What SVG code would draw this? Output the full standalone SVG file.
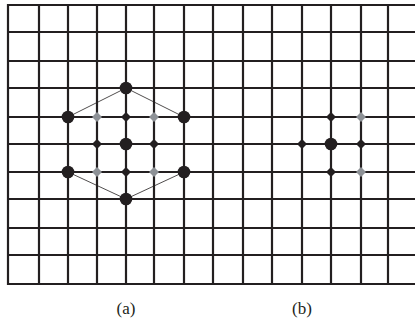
<svg xmlns="http://www.w3.org/2000/svg" width="415" height="323" viewBox="0 0 415 323">
<style>
.g{stroke:#231f20;stroke-width:2.2;fill:none}
.t{stroke:#231f20;stroke-width:0.8;fill:none}
.c{fill:#231f20}
.dk{fill:#231f20}
.gy{fill:#8d9196}
.lbl{font-family:"Liberation Serif",serif;font-size:17px;fill:#231f20;text-anchor:middle}
</style>
<defs>
<path id="dm" d="M0,-5 L5,0 L0,5 L-5,0 Z"/>
</defs>
<g id="grid" class="g">
<path d="M7,5H415M7,32H415M7,61H415M7,88H415M7,117H415M7,144H415M7,172H415M7,199H415M7,228H415M7,255H415M7,284H415"/>
<path d="M8,4V285M39,4V285M68,4V285M97,4V285M126,4V285M154,4V285M184,4V285M213,4V285M243,4V285M272,4V285M302,4V285M331,4V285M361,4V285M388,4V285"/>
</g>
<g id="connectors" class="t">
<path d="M126,88L68,117M126,88L184,117M68,172L126,199M184,172L126,199"/>
</g>
<g id="nodes-a">
<circle class="c" cx="126" cy="88" r="6.3"/>
<circle class="c" cx="68" cy="117" r="6.3"/>
<circle class="c" cx="184" cy="117" r="6.3"/>
<circle class="c" cx="126" cy="144" r="6.3"/>
<circle class="c" cx="68" cy="172" r="6.3"/>
<circle class="c" cx="184" cy="172" r="6.3"/>
<circle class="c" cx="126" cy="199" r="6.3"/>
<use href="#dm" class="gy" x="97" y="117"/>
<use href="#dm" class="gy" x="154" y="117"/>
<use href="#dm" class="gy" x="97" y="172"/>
<use href="#dm" class="gy" x="154" y="172"/>
<use href="#dm" class="dk" x="126" y="117"/>
<use href="#dm" class="dk" x="97" y="144"/>
<use href="#dm" class="dk" x="154" y="144"/>
<use href="#dm" class="dk" x="126" y="172"/>
</g>
<g id="nodes-b">
<circle class="c" cx="331" cy="144" r="6.3"/>
<use href="#dm" class="dk" x="331" y="117"/>
<use href="#dm" class="dk" x="302" y="144"/>
<use href="#dm" class="dk" x="361" y="144"/>
<use href="#dm" class="dk" x="331" y="172"/>
<use href="#dm" class="gy" x="361" y="117"/>
<use href="#dm" class="gy" x="361" y="172"/>
</g>
<g id="labels">
<text class="lbl" x="126" y="314">(a)</text>
<text class="lbl" x="302" y="314">(b)</text>
</g>
</svg>
